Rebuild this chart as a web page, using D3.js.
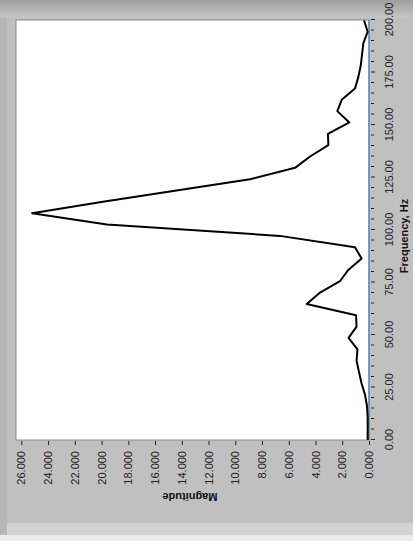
<!DOCTYPE html>
<html>
<head>
<meta charset="utf-8">
<script src="https://cdn.jsdelivr.net/npm/d3@7"></script>
<style>
  html, body { margin: 0; padding: 0; background: #c0c0c0; }
  svg { display: block; }
  text { font-family: "Liberation Sans", Arial, sans-serif; }
</style>
</head>
<body>
<svg id="chart" width="413" height="541"></svg>
<script>
// Spectrum bins (Hz) and their magnitudes
const frequencies = [0, 5.4, 10.8, 16.2, 21.6, 27, 32.4, 37.8, 43.2, 48.6, 54, 59.4,
  64.8, 70.2, 75.6, 81, 86.4, 91.8, 97.2, 102.6, 108, 113.4, 118.8, 124.2, 129.6,
  135, 140.4, 145.8, 151.2, 156.6, 162, 167.4, 172.8, 178.2, 183.6, 189, 194.4, 199.8];
const magnitudes = [0.10, 0.10, 0.10, 0.15, 0.30, 0.56, 0.75, 0.93, 0.86, 1.53, 0.93, 0.97,
  4.66, 3.66, 2.17, 1.55, 0.55, 1.05, 6.66, 19.6, 25.2, 19.9, 14.4, 8.9, 5.53,
  4.41, 3.04, 3.07, 1.47, 2.37, 2.04, 1.05, 0.80, 0.62, 0.52, 0.42, 0.10, 0.37];

// Axis ticks
const freqMajorTicks = [0, 25, 50, 75, 100, 125, 150, 175, 200];
const freqMinorTicks = d3.range(0, 201, 5).filter(v => v % 25 !== 0);
const magTicks = [0, 2, 4, 6, 8, 10, 12, 14, 16, 18, 20, 22, 24, 26];

const W = 413, H = 541;
const svg = d3.select("#chart");

// Panel background
const defs = svg.append("defs");
const grad = defs.append("linearGradient").attr("id", "topband")
  .attr("x1", 0).attr("y1", 0).attr("x2", 0).attr("y2", 1);
grad.append("stop").attr("offset", "0%").attr("stop-color", "#9e9e9e");
grad.append("stop").attr("offset", "100%").attr("stop-color", "#c6c6c6");

svg.append("rect").attr("width", W).attr("height", H).attr("fill", "#c0c0c0");
svg.append("rect").attr("x", 0).attr("y", 0).attr("width", W).attr("height", 18).attr("fill", "url(#topband)");
svg.append("rect").attr("x", 0).attr("y", 18).attr("width", 7).attr("height", 517).attr("fill", "#b6b6b6");
svg.append("rect").attr("x", 7).attr("y", 523).attr("width", W - 7).attr("height", 12).attr("fill", "#d3d3d3");
svg.append("rect").attr("x", 0).attr("y", 535).attr("width", W).attr("height", 6).attr("fill", "#ececec");

// The graph is laid out in its own frame (541 wide, 413 tall) and turned a quarter turn
const g = svg.append("g").attr("transform", `translate(0,${H}) rotate(-90)`);

const x = d3.scaleLinear().domain([0, 200]).range([101, 521]);
const y = d3.scaleLinear().domain([0, 26.4]).range([369, 16]);

// Plot area
g.append("rect")
  .attr("x", x(0)).attr("y", y(26.4))
  .attr("width", x(200) - x(0)).attr("height", y(0) - y(26.4))
  .attr("fill", "#ffffff")
  .attr("stroke", "#8a8a8a").attr("stroke-width", 1);

// Magnitude axis
const magAxis = g.append("g").attr("transform", `translate(${x(0) - 1},0)`)
  .call(d3.axisLeft(y).tickValues(magTicks).tickFormat(d3.format(".3f")).tickSize(4).tickPadding(6));
magAxis.select(".domain").remove();
magAxis.selectAll("line").attr("stroke", "#222");
magAxis.selectAll("text").attr("fill", "#222").style("font-size", "11px");

// Frequency axis
const fAxis = g.append("g").attr("transform", `translate(0,${y(0) + 2})`)
  .call(d3.axisBottom(x).tickValues(freqMajorTicks).tickFormat(d3.format(".2f")).tickSize(4).tickPadding(10));
fAxis.select(".domain").remove();
fAxis.selectAll("line").attr("stroke", "#222");
fAxis.selectAll("text").attr("fill", "#222").style("font-size", "11px");

const fMinor = g.append("g").attr("transform", `translate(0,${y(0) + 2})`)
  .call(d3.axisBottom(x).tickValues(freqMinorTicks).tickFormat("").tickSize(3));
fMinor.select(".domain").remove();
fMinor.selectAll("line").attr("stroke", "#222");

// Frequency axis line
g.append("line")
  .attr("x1", x(0)).attr("x2", x(200))
  .attr("y1", y(0)).attr("y2", y(0))
  .attr("stroke", "#4f8fd8").attr("stroke-width", 1.5);

// Spectrum trace
const pts = frequencies.map((f, i) => [f, magnitudes[i]]);
g.append("path")
  .datum(pts)
  .attr("fill", "none")
  .attr("stroke", "#000")
  .attr("stroke-width", 2)
  .attr("stroke-linejoin", "round")
  .attr("d", d3.line().x(d => x(d[0])).y(d => y(d[1])));

// Axis titles
g.append("text")
  .attr("x", 305).attr("y", 408)
  .attr("text-anchor", "middle")
  .style("font-size", "11px").style("font-weight", "bold")
  .attr("fill", "#111")
  .text("Frequency, Hz");

g.append("text")
  .attr("transform", "translate(48,190) rotate(-90)")
  .attr("text-anchor", "middle")
  .style("font-size", "11px").style("font-weight", "bold")
  .attr("fill", "#111")
  .text("Magnitude");
</script>
</body>
</html>
